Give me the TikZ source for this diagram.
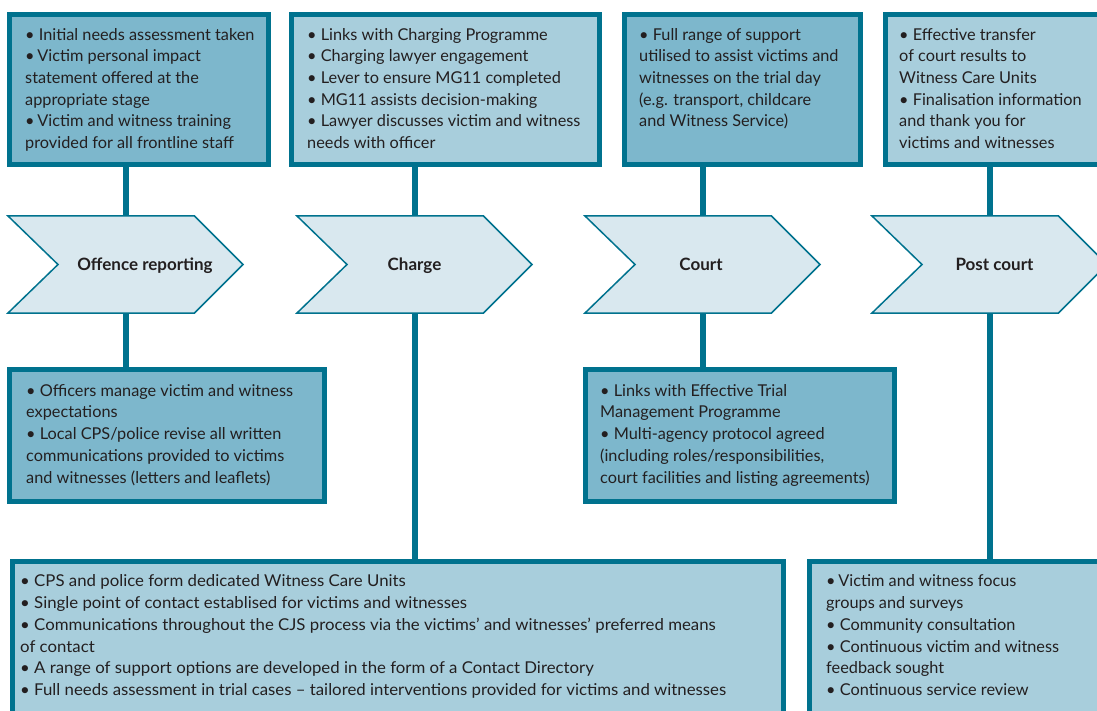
\documentclass[tikz,border=0pt]{standalone}
\usepackage{fontspec}
\setmainfont{Lato}
\newfontfamily\widefont[FakeStretch=1.03]{Lato}
\usetikzlibrary{backgrounds,calc}

\definecolor{teal}{RGB}{0,114,142}
\definecolor{darkfill}{RGB}{125,183,204}
\definecolor{lightfill}{RGB}{168,206,220}
\definecolor{chevfill}{RGB}{217,232,239}
\definecolor{ink}{RGB}{35,31,32}

\newcommand\bodyfont{\fontsize{16.3}{21.7}\selectfont}
\newcommand\widebody{\widefont\fontsize{16.3}{21.7}\selectfont}
\newcommand\lineTop{\rule{0pt}{13pt}}
% chevron outline drawn round an invisible rectangle node
\newcommand\chevshape[1]{%
  \filldraw[chevline] (#1.north west) -- ($(#1.north east)+(-48.5,0)$)
    -- (#1.east) -- ($(#1.south east)+(-48.5,0)$) -- (#1.south west)
    -- ($(#1.west)+(50,0)$) -- cycle;}

\begin{document}
\begin{tikzpicture}[x=1pt,y=-1pt,
  box/.style={draw=teal, line width=5pt, outer sep=0pt, inner sep=0pt, anchor=north west},
  darkbox/.style={box, fill=darkfill},
  lightbox/.style={box, fill=lightfill},
  txt/.style={anchor=north west, inner sep=0pt, align=left, font=\bodyfont, text=ink},
  widetxt/.style={txt, font=\widebody},
  chev/.style={minimum width=235pt, minimum height=97pt, inner sep=0pt, outer sep=0pt},
  chevline/.style={draw=teal, fill=chevfill, line width=1.5pt, line join=miter},
  chevlabel/.style={anchor=base, inner sep=0pt, font=\fontsize{17}{20}\selectfont\bfseries, text=ink},
  conn/.style={draw=teal, line width=6pt}]
\useasboundingbox (0,0) rectangle (1097,711);
\clip (0,0) rectangle (1097,711);

% boxes above the chevrons
\node[darkbox, minimum width=259pt, minimum height=150pt] (b1) at (9.5,14.5) {};
\node[lightbox, minimum width=308pt, minimum height=150pt] (b2) at (291.5,14.5) {};
\node[darkbox, minimum width=236pt, minimum height=150pt] (b3) at (624.5,14.5) {};
\node[lightbox, minimum width=240pt, minimum height=150pt] (b4) at (885.5,14.5) {};

% boxes below the chevrons
\node[darkbox, minimum width=315pt, minimum height=132pt] (b5) at (9.5,369.5) {};
\node[darkbox, minimum width=309pt, minimum height=132pt] (b6) at (585.5,369.5) {};
\node[lightbox, minimum width=771pt, minimum height=180pt] (b7) at (12.5,561.5) {};
\node[lightbox, minimum width=300pt, minimum height=180pt] (b8) at (809.5,561.5) {};

% stage chevrons
\node[chev] (ch1) at (125.5,264.5) {};
\node[chev] (ch2) at (414.5,264.5) {};
\node[chev] (ch3) at (702.5,264.5) {};
\node[chev] (ch4) at (989.5,264.5) {};

\begin{scope}[on background layer]
  \draw[conn] (ch1.north) -- (ch1.north |- b1.south);
  \draw[conn] (ch1.south) -- (ch1.south |- b5.north);
  \draw[conn] (ch2.north) -- (ch2.north |- b2.south);
  \draw[conn] (ch2.south) -- (ch2.south |- b7.north);
  \draw[conn] (ch3.north) -- (ch3.north |- b3.south);
  \draw[conn] (ch3.south) -- (ch3.south |- b6.north);
  \draw[conn] (ch4.north) -- (ch4.north |- b4.south);
  \draw[conn] (ch4.south) -- (ch4.south |- b8.north);
  \chevshape{ch1}
  \chevshape{ch2}
  \chevshape{ch3}
  \chevshape{ch4}
\end{scope}

\node[chevlabel] (l1) at (145,270.5) {Offence reporting};
\node[chevlabel] (l2) at (414.5,270.5) {Charge};
\node[chevlabel] (l3) at (701,270.5) {Court};
\node[chevlabel] (l4) at (994.5,270.5) {Post court};

% box texts
\node[txt] (t1) at (25,27) {\lineTop• Initial needs assessment taken\\
•\,Victim personal impact\\
statement offered at the\\
appropriate stage\\
•\,Victim and witness training\\
provided for all frontline staff};

\node[txt] (t2) at (307,27) {\lineTop• Links with Charging Programme\\
• Charging lawyer engagement\\
• Lever to ensure MG11 completed\\
• MG11 assists decision-making\\
• Lawyer discusses victim and witness\\
needs with officer};

\node[txt] (t3) at (639,27) {\lineTop• Full range of support\\
utilised to assist victims and\\
witnesses on the trial day\\
(e.g. transport, childcare\\
and Witness Service)};

\node[txt] (t4) at (899,27) {\lineTop• Effective transfer\\
of court results to\\
Witness Care Units\\
• Finalisation information\\
and thank you for\\
victims and witnesses};

\node[txt] (t5) at (26,383) {\lineTop• Officers manage victim and witness\\
expectations\\
• Local CPS/police revise all written\\
communications provided to victims\\
and witnesses (letters and leaflets)};

\node[txt] (t6) at (600,383) {\lineTop• Links with Effective Trial\\
Management Programme\\
• Multi-agency protocol agreed\\
(including roles/responsibilities,\\
court facilities and listing agreements)};

\node[widetxt] (t7) at (20,573.7) {\lineTop• CPS and police form dedicated Witness Care Units\\
• Single point of contact establised for victims and witnesses\\
• Communications throughout the CJS process via the victims’ and witnesses’ preferred means\\
of contact\\
• A range of support options are developed in the form of a Contact Directory\\
• Full needs assessment in trial cases – tailored interventions provided for victims and witnesses};

\node[txt] (t8) at (826,573.7) {\lineTop•\,Victim and witness focus\\
groups and surveys\\
• Community consultation\\
• Continuous victim and witness\\
feedback sought\\
• Continuous service review};
\end{tikzpicture}
\end{document}
